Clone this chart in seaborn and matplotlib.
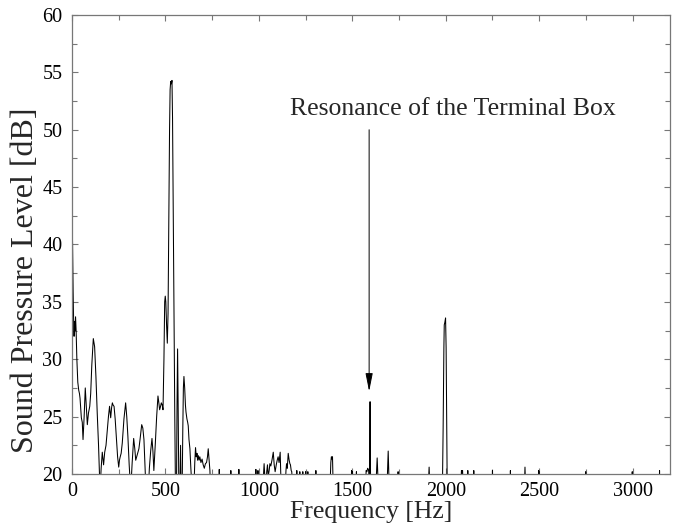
import matplotlib
matplotlib.use("Agg")
import matplotlib.pyplot as plt
import seaborn as sns
import pandas as pd
from matplotlib.ticker import MultipleLocator

# ---------------- data ----------------
# low-frequency band 0 - 490 Hz
low_f = [0, 3, 6, 9, 11, 14, 16, 19, 22, 26, 31, 36, 40, 43, 50, 55, 59, 65, 71, 76,
         82, 88, 95, 100, 106, 114, 121, 128, 135, 142, 150, 156, 162, 169, 175, 182,
         189, 195, 201, 207, 212, 216, 220, 225, 231, 237, 244, 250, 254, 258, 263,
         269, 278, 287, 293, 299, 306, 314, 322, 330, 336, 341, 348, 358, 364, 373,
         379, 385, 390, 396, 408, 414, 421, 428, 433, 438, 442, 446, 453, 460, 464,
         469, 474, 478, 483, 487]
low_db = [42.6, 40.0, 36.0, 33.0, 32.0, 33.3, 32.5, 33.7, 32.5, 30.0, 28.0, 27.3, 27.0,
          26.6, 24.9, 24.5, 23.0, 25.0, 27.5, 26.0, 24.3, 25.3, 25.9, 27.0, 29.5, 31.8,
          31.1, 28.5, 25.3, 22.5, 18.5, 20.5, 21.9, 20.8, 21.9, 22.5, 23.8, 25.0, 25.9,
          24.9, 25.8, 26.2, 26.0, 25.9, 24.8, 23.3, 21.5, 20.6, 21.2, 21.5, 21.8, 22.7,
          24.8, 26.2, 25.0, 23.3, 20.8, 18.5, 21.0, 23.1, 22.2, 21.2, 21.6, 22.2, 23.0,
          24.3, 24.0, 23.0, 21.0, 18.5, 18.5, 20.5, 22.0, 23.1, 22.0, 20.3, 21.5, 22.7,
          25.0, 26.8, 26.3, 25.6, 25.9, 26.2, 26.0, 25.6]

# main peak band 490 - 745 Hz
peak_f = [492, 496, 499, 502, 506, 510, 514, 518, 522, 525, 528, 532, 535, 538, 542,
          546, 550, 554, 559, 562, 565, 568, 572, 577, 581, 584, 589, 593, 596, 599,
          603, 607, 610, 615, 619, 622, 626, 631, 636, 643, 652, 657, 661, 665, 669,
          672, 676, 680, 684, 690, 696, 702, 708, 714, 720, 725, 729, 734, 738, 742]
peak_db = [30.0, 35.0, 35.5, 35.0, 33.0, 31.4, 34.0, 42.0, 50.0, 53.5, 54.2, 54.0, 54.3,
           51.0, 42.0, 33.0, 25.0, 18.0, 18.0, 26.0, 30.9, 26.0, 18.0, 18.0, 22.5, 18.0,
           18.0, 24.0, 27.5, 28.5, 27.5, 26.0, 25.4, 24.8, 24.5, 24.2, 23.0, 22.2, 20.5,
           18.5, 18.5, 21.0, 22.3, 21.5, 21.8, 21.2, 21.6, 21.2, 21.5, 21.0, 21.3, 20.8,
           20.5, 20.9, 21.0, 21.5, 22.2, 21.2, 20.3, 18.5]

# mid band 750 - 1400 Hz
mid_f = [786, 788, 790, 848, 850, 852, 891, 893, 895, 982, 984, 986, 993, 995, 997,
         1020, 1026, 1028, 1031, 1037, 1042, 1046, 1050, 1055, 1059, 1064, 1070, 1077,
         1082, 1087, 1093, 1098, 1103, 1108, 1114, 1118, 1124, 1140, 1145, 1148, 1152,
         1157, 1162, 1166, 1169, 1173, 1176, 1181, 1201, 1203, 1205, 1217, 1219, 1221,
         1233, 1235, 1237, 1248, 1250, 1252, 1260, 1262, 1264, 1303, 1305, 1307,
         1380, 1385, 1388, 1391, 1394, 1398]
mid_db = [18.5, 20.4, 18.5, 18.5, 20.3, 18.5, 18.5, 20.4, 18.5, 18.5, 20.4, 18.5, 18.5,
          20.3, 18.5, 18.5, 20.3, 20.9, 20.0, 18.5, 20.2, 20.8, 19.8, 20.3, 20.9, 20.7,
          21.2, 21.9, 20.8, 20.2, 20.8, 21.2, 21.5, 21.0, 21.9, 19.5, 18.5, 18.5, 20.3,
          20.9, 20.5, 21.8, 21.2, 20.9, 20.8, 20.3, 20.2, 18.5, 18.5, 20.3, 18.5, 18.5,
          20.2, 18.5, 18.5, 20.2, 18.5, 18.5, 20.2, 18.5, 18.5, 20.2, 18.5, 18.5, 20.3,
          18.5, 18.5, 21.0, 21.5, 21.3, 21.5, 18.5]

# high band 1400 - 3200 Hz
high_f = [1494, 1496, 1499, 1501, 1503, 1520, 1522, 1524, 1570, 1574, 1578, 1582, 1586,
          1590, 1592, 1595, 1598, 1625, 1633, 1640, 1685, 1692, 1698, 1743, 1745, 1747,
          1905, 1911, 1916, 1982, 1986, 1990, 1992, 1995, 1999, 2002, 2005, 2008,
          2080, 2084, 2087, 2090, 2094, 2116, 2118, 2120, 2148, 2150, 2152, 2248, 2250,
          2252, 2344, 2346, 2348, 2420, 2424, 2428, 2495, 2497, 2500, 2503, 2747, 2749,
          2751, 2996, 2998, 3000, 3142, 3144, 3146, 3200]
high_db = [18.5, 20.3, 18.5, 20.2, 18.5, 18.5, 20.2, 18.5, 18.5, 20.3, 20.2, 20.5, 20.4,
           20.0, 20.2, 26.3, 18.5, 18.5, 21.4, 18.5, 18.5, 22.0, 18.5, 18.5, 20.2, 18.5,
           18.5, 20.6, 18.5, 18.5, 24.0, 31.0, 33.0, 33.2, 33.6, 31.0, 25.0, 18.5,
           18.5, 20.3, 20.1, 20.3, 18.5, 18.5, 20.3, 18.5, 18.5, 20.3, 18.5, 18.5, 20.3,
           18.5, 18.5, 20.3, 18.5, 18.5, 20.6, 18.5, 18.5, 20.3, 20.2, 18.5, 18.5, 20.2,
           18.5, 18.5, 20.2, 18.5, 18.5, 20.3, 18.5, 18.5]

x_ticks = [0, 500, 1000, 1500, 2000, 2500, 3000]
y_ticks = [20, 25, 30, 35, 40, 45, 50, 55, 60]
x_label = "Frequency [Hz]"
y_label = "Sound Pressure Level [dB]"
note_text = "Resonance of the Terminal Box"
note_pos = (2037, 51.8)
arrow_f = 1590
arrow_from_db = 50.0
arrow_to_db = 27.2

# ---------------- plotting ----------------
sns.set_theme(style="ticks")
plt.rcParams["font.family"] = ["Liberation Serif", "DejaVu Serif"]

df = pd.DataFrame({
    "freq": low_f + peak_f + mid_f + high_f,
    "spl": low_db + peak_db + mid_db + high_db,
})

W, H = 673, 529
fig = plt.figure(figsize=(W / 100, H / 100), dpi=100)
ax = fig.add_axes([72 / W, 1 - 474 / H, (670 - 72) / W, (474 - 15) / H])

sns.lineplot(data=df, x="freq", y="spl", ax=ax, color="black", linewidth=0.75,
             estimator=None, sort=False)

ax.set_xlim(0, 3200)
ax.set_ylim(20, 60)
ax.set_xticks(x_ticks)
ax.set_yticks(y_ticks)
ax.xaxis.set_minor_locator(MultipleLocator(250))
ax.yaxis.set_minor_locator(MultipleLocator(2.5))
ax.tick_params(which="both", direction="in", top=True, right=True, color="#777777",
               width=0.8, labelsize=14.5, labelcolor="black")
ax.tick_params(axis="y", pad=7)
ax.tick_params(axis="x", pad=6)
ax.tick_params(which="major", length=4)
ax.tick_params(which="minor", length=3.5)
for s in ax.spines.values():
    s.set_color("#777777")
    s.set_linewidth(0.9)

ax.set_xlabel(x_label, fontsize=18.5, labelpad=0)
ax.set_ylabel(y_label, fontsize=23)
ax.yaxis.set_label_coords(-0.053, 0.423)

ax.annotate("", xy=(arrow_f, arrow_to_db), xytext=(arrow_f, arrow_from_db),
            arrowprops=dict(arrowstyle="-|>,head_length=1.1,head_width=0.22",
                            mutation_scale=10, color="black", lw=0.7,
                            shrinkA=0, shrinkB=0))
ax.text(note_pos[0], note_pos[1], note_text, ha="center", va="center", fontsize=18.5)

fig.savefig("out.png", dpi=100)
